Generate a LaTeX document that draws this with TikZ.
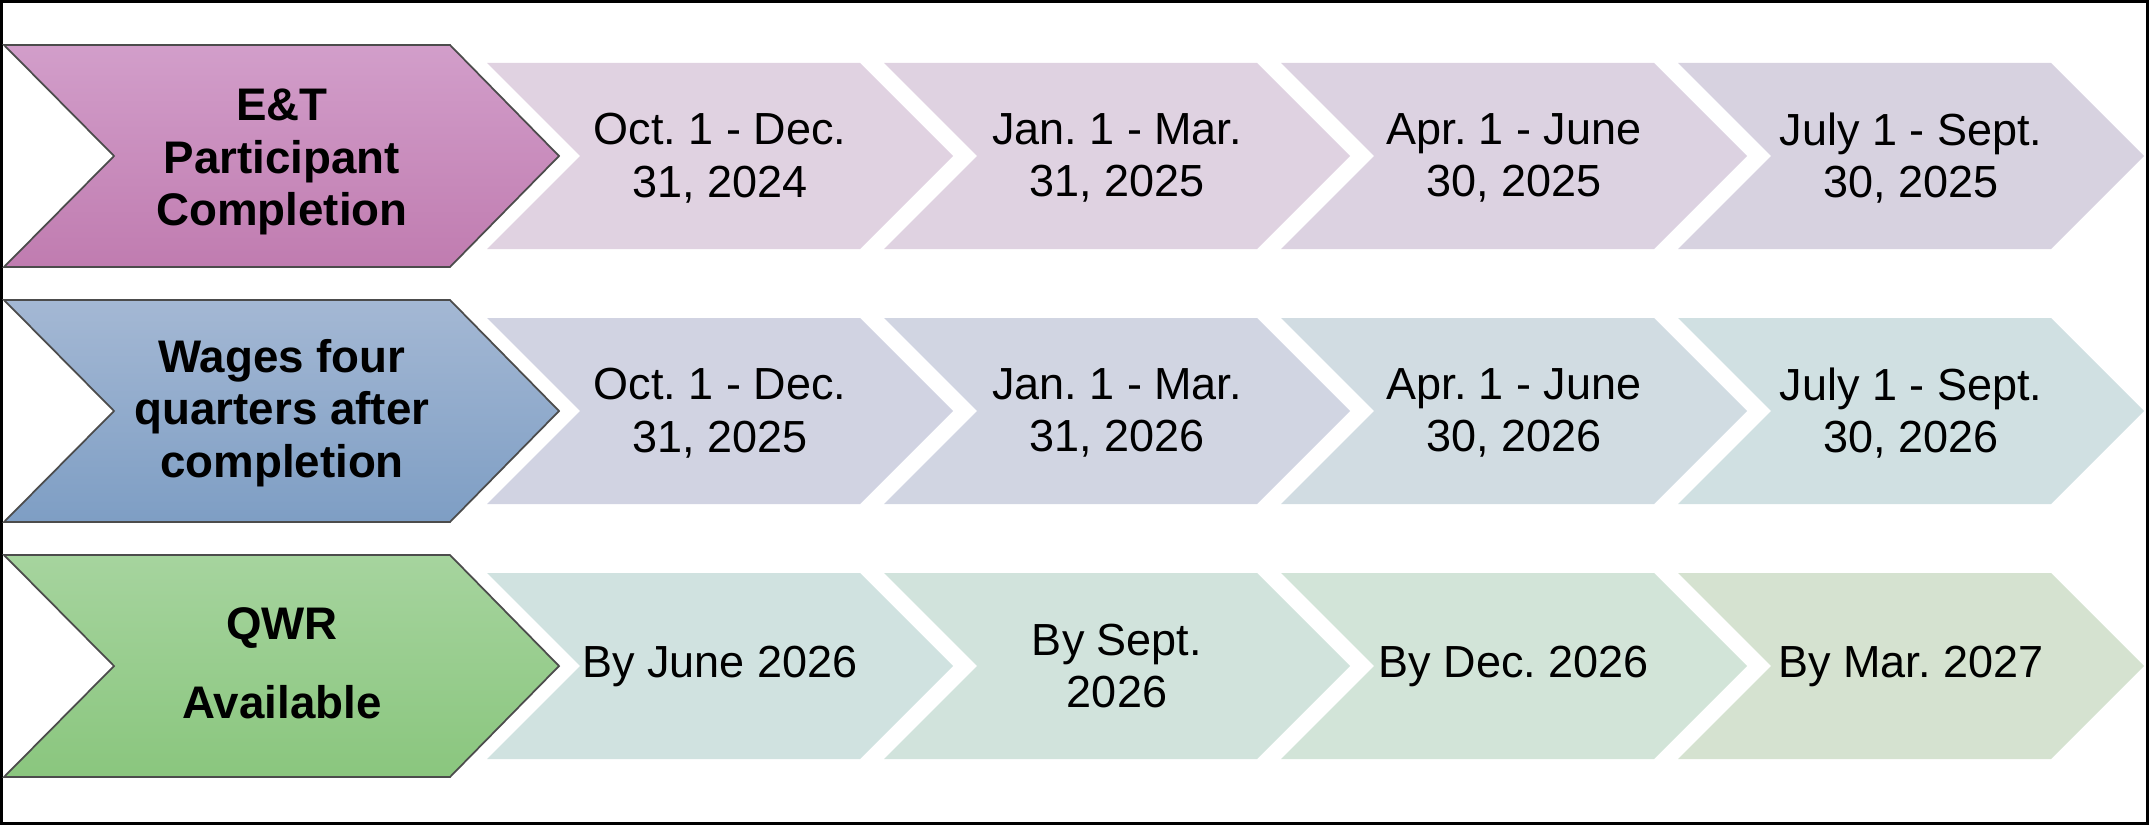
\documentclass[tikz,border=0pt]{standalone}
\usepackage{fontspec}
\setmainfont{Liberation Sans}
\frenchspacing

\definecolor{purpTop}{HTML}{D29ECA}
\definecolor{purpBot}{HTML}{C07CB0}
\definecolor{blueTop}{HTML}{A4B8D4}
\definecolor{blueBot}{HTML}{7E9EC4}
\definecolor{grnTop}{HTML}{A6D49E}
\definecolor{grnBot}{HTML}{8AC67E}

\definecolor{pA}{HTML}{E0D2E1}
\definecolor{pB}{HTML}{DFD2E1}
\definecolor{pC}{HTML}{DCD2E1}
\definecolor{pD}{HTML}{D7D2E0}
\definecolor{wA}{HTML}{D1D3E2}
\definecolor{wB}{HTML}{D1D5E2}
\definecolor{wC}{HTML}{D1DCE2}
\definecolor{wD}{HTML}{D0E0E2}
\definecolor{qA}{HTML}{D0E2E0}
\definecolor{qB}{HTML}{D1E3DC}
\definecolor{qC}{HTML}{D2E4D8}
\definecolor{qD}{HTML}{D5E2D0}

\begin{document}
\begin{tikzpicture}[x=0.1mm,y=-0.1mm,
  chev/.style={align=center,font=\fontsize{12.8}{15}\selectfont},
  head/.style={align=center,font=\fontsize{13}{15}\selectfont\bfseries},
  edge/.style={draw=black!70,line width=0.5pt}]

\useasboundingbox (0,0) rectangle (2149,825);
\draw[line width=0.85pt] (1.5,1.5) rectangle (2147.5,823.5);

% left headers
\shadedraw[top color=purpTop,bottom color=purpBot,edge] (4,45) -- (450,45) -- (559,156) -- (450,267) -- (4,267) -- (114,156) -- cycle;
\shadedraw[top color=blueTop,bottom color=blueBot,edge] (4,300) -- (450,300) -- (559,411) -- (450,522) -- (4,522) -- (114,411) -- cycle;
\shadedraw[top color=grnTop,bottom color=grnBot,edge] (4,555) -- (450,555) -- (559,666) -- (450,777) -- (4,777) -- (114,666) -- cycle;
\node[head] (part) at (282,162) {E\&T\\Participant\\Completion};
\node[head] (wage) at (282,413) {Wages four\\quarters after\\completion};
\node[head] (qwr) at (282,663) {QWR\\[7.5pt]Available};

% quarters
\foreach \i/\c/\t in {0/pA/{Oct. 1 - Dec.\\31, 2024},1/pB/{Jan. 1 - Mar.\\31, 2025},2/pC/{Apr. 1 - June\\30, 2025},3/pD/{July 1 - Sept.\\30, 2025}}{
  \fill[\c] ({487+397*\i},63) -- ++(373,0) -- ++(93,93) -- ++(-93,93) -- ++(-373,0) -- ++(93,-93) -- cycle;
  \node[chev] (p\i) at ({720+397*\i},158) {\t};
}
\foreach \i/\c/\t in {0/wA/{Oct. 1 - Dec.\\31, 2025},1/wB/{Jan. 1 - Mar.\\31, 2026},2/wC/{Apr. 1 - June\\30, 2026},3/wD/{July 1 - Sept.\\30, 2026}}{
  \fill[\c] ({487+397*\i},318) -- ++(373,0) -- ++(93,93) -- ++(-93,93) -- ++(-373,0) -- ++(93,-93) -- cycle;
  \node[chev] (w\i) at ({720+397*\i},413) {\t};
}
\foreach \i/\c/\t in {0/qA/{By June 2026},1/qB/{By Sept.\\2026},2/qC/{By Dec. 2026},3/qD/{By Mar. 2027}}{
  \fill[\c] ({487+397*\i},573) -- ++(373,0) -- ++(93,93) -- ++(-93,93) -- ++(-373,0) -- ++(93,-93) -- cycle;
  \node[chev] (q\i) at ({720+397*\i},666) {\t};
}
\end{tikzpicture}
\end{document}
